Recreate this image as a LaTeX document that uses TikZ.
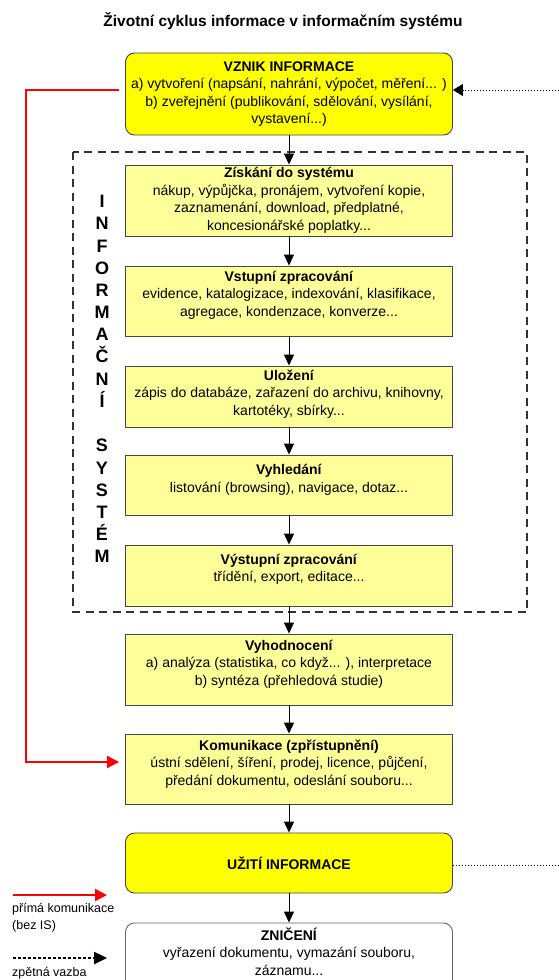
\documentclass[tikz,border=0pt]{standalone}
\usepackage{fontspec}
\setmainfont{Liberation Sans}
\usetikzlibrary{arrows.meta}

\definecolor{vivid}{RGB}{255,255,0}
\definecolor{pale}{RGB}{255,255,153}
\definecolor{edge}{RGB}{70,70,70}

\begin{document}
\begin{tikzpicture}[x=1pt, y=-1pt,
every node/.style = {font=\fontsize{14}{17.5}\selectfont, align=center},
stage/.style = {draw=edge, line width=0.9pt, minimum width=327pt,
    inner xsep=2pt, inner ysep=1pt},
phase/.style = {stage, fill=pale},
milestone/.style = {stage, fill=vivid, rounded corners=9pt},
flow/.style = {-{Triangle[length=11pt,width=10pt]}, line width=0.9pt},
direct/.style = {red, line width=2pt, -{Triangle[length=12pt,width=12pt]}},
feedback/.style = {dotted, line width=1pt, -{Triangle[length=10pt,width=12pt]}},
feedlegend/.style = {line width=2.5pt, dash pattern=on 2.5pt off 2.5pt,
    -{Triangle[length=13pt,width=12pt]}}]
\useasboundingbox (0,0) rectangle (559,980);

\node[font=\bfseries\fontsize{15.5}{18}\selectfont] (title) at (283,21)
    {Životní cyklus informace v informačním systému};

% the information system frame
\draw[draw=black!80, line width=1.8pt, dash pattern=on 8pt off 5.5pt]
    (73,152) rectangle (527,612);
\node[font=\bfseries\fontsize{18}{22.2}\selectfont] (issys) at (102,379)
    {I\\N\\F\\O\\R\\M\\A\\Č\\N\\Í\\[22.2pt]S\\Y\\S\\T\\É\\M};

% stages of the cycle
\node[milestone, minimum height=82pt] (vznik) at (289,94)
    {\textbf{VZNIK INFORMACE}\\a) vytvoření (napsání, nahrání, výpočet, měření... )\\
     b) zveřejnění (publikování, sdělování, vysílání,\\vystavení...)};
\node[phase, minimum height=71pt] (ziskani) at (289,200.5)
    {\textbf{Získání do systému}\\nákup, výpůjčka, pronájem, vytvoření kopie,\\
     zaznamenání, download, předplatné,\\koncesionářské poplatky...};
\node[phase, minimum height=70pt, text depth=15pt] (vstup) at (289,301)
    {\textbf{Vstupní zpracování}\\evidence, katalogizace, indexování, klasifikace,\\
     agregace, kondenzace, konverze...};
\node[phase, minimum height=61pt, text depth=8pt] (ulozeni) at (289,396.5)
    {\textbf{Uložení}\\zápis do databáze, zařazení do archivu, knihovny,\\kartotéky, sbírky...};
\node[phase, minimum height=60pt, text depth=13pt] (hledani) at (289,485)
    {\textbf{Vyhledání}\\listování (browsing), navigace, dotaz...};
\node[phase, minimum height=61pt, text depth=15pt] (vystup) at (289,575.5)
    {\textbf{Výstupní zpracování}\\třídění, export, editace...};
\node[phase, minimum height=71pt, text depth=14pt] (hodnoceni) at (289,669.5)
    {\textbf{Vyhodnocení}\\a) analýza (statistika, co když... ), interpretace\\
     b) syntéza (přehledová studie)};
\node[phase, minimum height=70pt, text depth=13pt] (kom) at (289,769)
    {\textbf{Komunikace (zpřístupnění)}\\ústní sdělení, šíření, prodej, licence, půjčení,\\
     předání dokumentu, odeslání souboru...};
\node[milestone, minimum height=60pt] (uziti) at (289,863)
    {\textbf{UŽITÍ INFORMACE}};
\node[milestone, fill=white, draw=black!60, text depth=13pt, minimum height=70pt]
    (zniceni) at (289,958)
    {\textbf{ZNIČENÍ}\\vyřazení dokumentu, vymazání souboru,\\záznamu...};

\draw[flow] (vznik.south) -- (ziskani.north);
\draw[flow] (ziskani.south) -- (vstup.north);
\draw[flow] (vstup.south) -- (ulozeni.north);
\draw[flow] (ulozeni.south) -- (hledani.north);
\draw[flow] (hledani.south) -- (vystup.north);
\draw[flow] (vystup.south) -- (hodnoceni.north);
\draw[flow] (hodnoceni.south) -- (kom.north);
\draw[flow] (kom.south) -- (uziti.north);
\draw[flow] (uziti.south) -- (zniceni.north);

% direct communication and feedback
\draw[direct, shorten <=6pt, shorten >=6pt]
    ([yshift=4pt]vznik.west) -- ++(-99,0) |- ([yshift=7pt]kom.west);
\coordinate (fbin) at (565,90);
\coordinate (fbout) at (565,865);
\draw[feedback] (fbin) -- ([yshift=4pt]vznik.east);
\draw[dotted, line width=1pt] ([yshift=-2pt]uziti.east) -- (fbout);

% legend
\coordinate (lgredA) at (13,895);
\coordinate (lgredB) at (107,895);
\coordinate (lgdotA) at (13,958);
\coordinate (lgdotB) at (107,958);
\draw[direct] (lgredA) -- (lgredB);
\draw[feedlegend] (lgdotA) -- (lgdotB);
\node[font=\fontsize{12.5}{17.5}\selectfont, align=left, anchor=north west,
    inner sep=0pt] (lgred) at (12,903) {přímá komunikace\\(bez IS)};
\node[font=\fontsize{12.5}{17.5}\selectfont, anchor=north west,
    inner sep=0pt] (lgdot) at (12,967) {zpětná vazba};
\end{tikzpicture}
\end{document}
